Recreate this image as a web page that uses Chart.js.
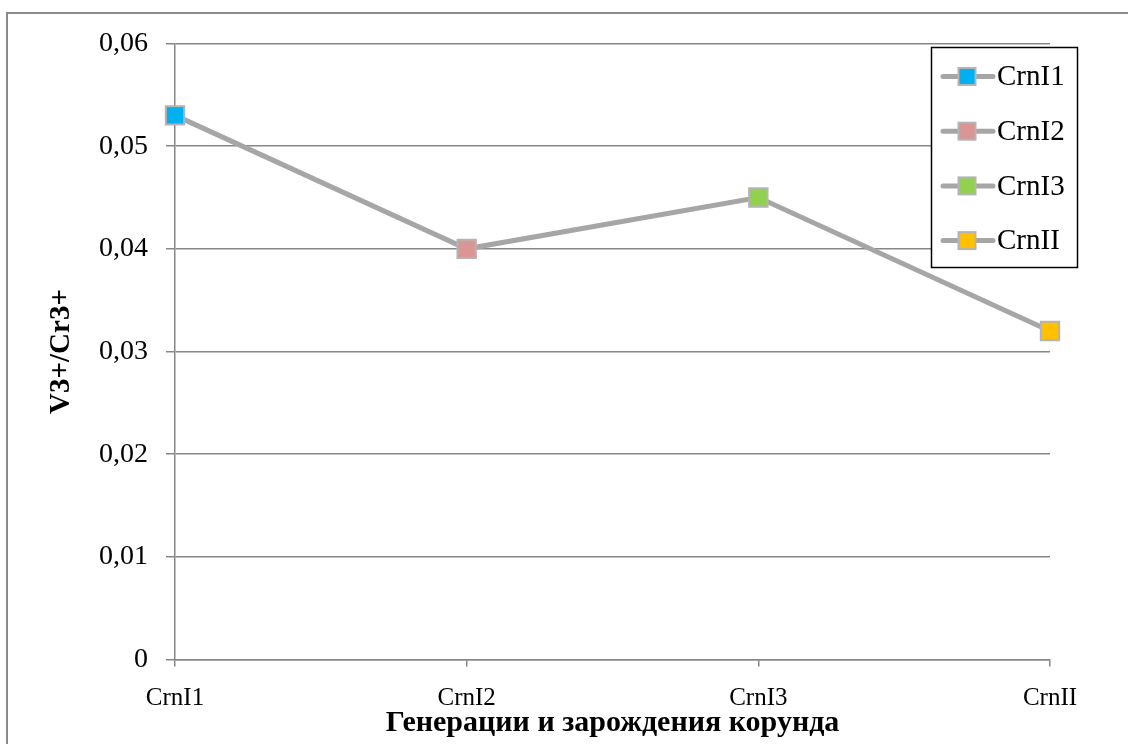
<!DOCTYPE html>
<html>
<head>
<meta charset="utf-8">
<script src="https://cdn.jsdelivr.net/npm/chart.js@4/dist/chart.umd.min.js"></script>
<style>
  html, body { margin: 0; padding: 0; background: #ffffff; }
  #wrap { width: 1128px; height: 744px; position: relative; }
</style>
</head>
<body>
<div id="wrap"><canvas id="chart" width="1128" height="744"></canvas></div>
<script>
// Data
const categories = ['CrnI1', 'CrnI2', 'CrnI3', 'CrnII'];
const ratioValues = [0.053, 0.040, 0.045, 0.032];
const yTickValues = [0, 0.01, 0.02, 0.03, 0.04, 0.05, 0.06];
const yAxisTitle = 'V3+/Cr3+';
const xAxisTitle = 'Генерации и зарождения корунда';

// Styles
const markerColors = ['#00B0F0', '#D99694', '#92D050', '#FFC000'];
const LINE_COLOR = '#A6A6A6';
const MARKER_EDGE = '#B4B4B4';
const GRID_COLOR = '#878787';
const SERIF = '"Liberation Serif", "Times New Roman", serif';

const formatTick = v => (Math.abs(v) < 1e-9 ? '0' : v.toFixed(2).replace('.', ','));

// Outer frame of the chart
const outerFrame = {
  id: 'outerFrame',
  beforeDraw(chart) {
    const ctx = chart.ctx;
    ctx.save();
    ctx.strokeStyle = '#8A8A8A';
    ctx.lineWidth = 2;
    ctx.strokeRect(7, 13, 1200, 800);
    ctx.restore();
  }
};

// Boxed legend: one entry per category, line sample with its coloured marker
const boxedLegend = {
  id: 'boxedLegend',
  afterDraw(chart) {
    const ctx = chart.ctx;
    const bx = 931.5, by = 47.5, bw = 146, bh = 220;
    ctx.save();
    ctx.fillStyle = '#ffffff';
    ctx.fillRect(bx, by, bw, bh);
    ctx.strokeStyle = '#000000';
    ctx.lineWidth = 1.5;
    ctx.strokeRect(bx, by, bw, bh);
    categories.forEach((name, i) => {
      const cy = 76.5 + i * 54.7;
      ctx.strokeStyle = LINE_COLOR;
      ctx.lineWidth = 5;
      ctx.lineCap = 'round';
      ctx.beginPath();
      ctx.moveTo(943, cy);
      ctx.lineTo(993, cy);
      ctx.stroke();
      ctx.fillStyle = markerColors[i];
      ctx.fillRect(958.5, cy - 8.5, 17, 17);
      ctx.strokeStyle = MARKER_EDGE;
      ctx.lineWidth = 2;
      ctx.strokeRect(958.5, cy - 8.5, 17, 17);
      ctx.fillStyle = '#000000';
      ctx.font = '29px ' + SERIF;
      ctx.textAlign = 'left';
      ctx.textBaseline = 'middle';
      ctx.fillText(name, 997, cy + 1);
    });
    ctx.restore();
  }
};

new Chart(document.getElementById('chart'), {
  type: 'line',
  data: {
    labels: categories,
    datasets: [{
      label: yAxisTitle,
      data: ratioValues,
      borderColor: LINE_COLOR,
      borderWidth: 5,
      tension: 0,
      pointStyle: 'rect',
      pointRadius: 13,
      pointHoverRadius: 13,
      pointBackgroundColor: markerColors,
      pointBorderColor: MARKER_EDGE,
      pointBorderWidth: 2,
      clip: false
    }]
  },
  options: {
    responsive: false,
    animation: false,
    events: [],
    layout: { padding: { left: 0, right: 78, top: 43.5, bottom: 0 } },
    plugins: {
      legend: { display: false },
      tooltip: { enabled: false }
    },
    scales: {
      x: {
        offset: false,
        grid: { drawOnChartArea: false, drawTicks: true, tickLength: 7, color: GRID_COLOR, lineWidth: 1.5 },
        border: { color: GRID_COLOR, width: 1.5 },
        ticks: { color: '#000000', font: { family: SERIF, size: 25 }, padding: 17.4, maxRotation: 0 },
        title: {
          display: true,
          text: xAxisTitle,
          color: '#000000',
          font: { family: SERIF, size: 30, weight: 'bold' },
          padding: { top: 0, bottom: 2.8 }
        },
        afterFit(scale) { scale.height = 84.5; }
      },
      y: {
        min: 0,
        max: 0.06,
        afterBuildTicks(scale) { scale.ticks = yTickValues.map(v => ({ value: v })); },
        grid: { color: GRID_COLOR, lineWidth: 1.5, tickLength: 9 },
        border: { color: GRID_COLOR, width: 1.5 },
        ticks: { color: '#000000', font: { family: SERIF, size: 28 }, padding: 18, callback: formatTick },
        title: {
          display: true,
          text: yAxisTitle,
          color: '#000000',
          font: { family: SERIF, size: 29, weight: 'bold' },
          padding: { top: 44.5, bottom: 0 }
        },
        afterFit(scale) { scale.width = 175; }
      }
    }
  },
  plugins: [outerFrame, boxedLegend]
});
</script>
</body>
</html>
